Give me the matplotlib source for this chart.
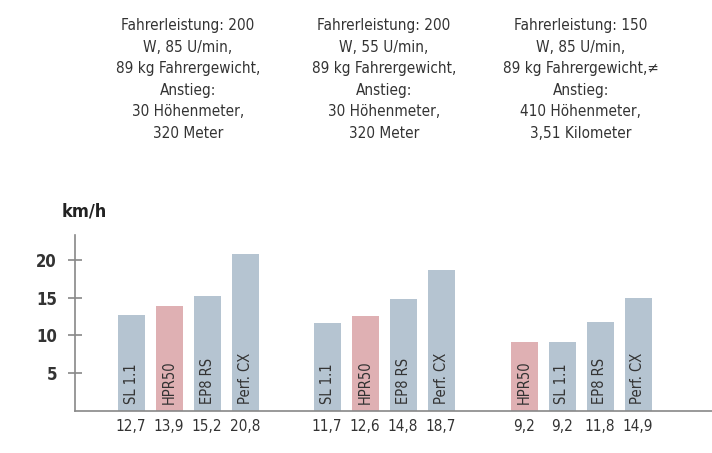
import matplotlib.pyplot as plt

plt.rcParams["font.family"] = "DejaVu Sans"
plt.rcParams["font.stretch"] = "condensed"

groups = [
    ["SL 1.1", "HPR50", "EP8 RS", "Perf. CX"],
    ["SL 1.1", "HPR50", "EP8 RS", "Perf. CX"],
    ["HPR50", "SL 1.1", "EP8 RS", "Perf. CX"],
]
values = [
    [12.7, 13.9, 15.2, 20.8],
    [11.7, 12.6, 14.8, 18.7],
    [9.2, 9.2, 11.8, 14.9],
]
value_labels = [
    ["12,7", "13,9", "15,2", "20,8"],
    ["11,7", "12,6", "14,8", "18,7"],
    ["9,2", "9,2", "11,8", "14,9"],
]
notes = [
    "Fahrerleistung: 200\nW, 85 U/min,\n89 kg Fahrergewicht,\nAnstieg:\n30 Höhenmeter,\n320 Meter",
    "Fahrerleistung: 200\nW, 55 U/min,\n89 kg Fahrergewicht,\nAnstieg:\n30 Höhenmeter,\n320 Meter",
    "Fahrerleistung: 150\nW, 85 U/min,\n89 kg Fahrergewicht,≠\nAnstieg:\n410 Höhenmeter,\n3,51 Kilometer",
]
yticks = [5, 10, 15, 20]

BLUE = "#b5c4d1"
PINK = "#dfb0b3"
TXT = "#333333"

fig = plt.figure(figsize=(7.12, 4.53), dpi=100)
ax = fig.add_axes([75 / 712, 42 / 453, 637 / 712, 176 / 453])

group_start = [131, 327, 524]
step = 38
for g, (names, vals, labs) in enumerate(zip(groups, values, value_labels)):
    for i, (n, v, l) in enumerate(zip(names, vals, labs)):
        x = group_start[g] + i * step
        ax.bar(x, v, width=27, color=PINK if n == "HPR50" else BLUE)
        ax.text(x, 0.9, n, rotation=90, ha="center", va="bottom",
                fontsize=10.5, color=TXT)
        ax.text(x, -1.0, l, ha="center", va="top", fontsize=11, color=TXT,
                clip_on=False)
    fig.text((group_start[g] + 1.5 * step) / 712, 1 - 18 / 453, notes[g],
             ha="center", va="top", fontsize=11, color=TXT, linespacing=1.55)

ax.set_xlim(75, 712)
ax.set_ylim(0, 23.3)
ax.set_yticks(yticks)
ax.set_yticklabels([str(t) for t in yticks], fontsize=12, fontweight="bold", color=TXT)
ax.tick_params(axis="y", direction="inout", length=10, width=1.2, color="#888888", pad=8)
ax.set_xticks([])
for s in ["top", "right"]:
    ax.spines[s].set_visible(False)
for s in ["left", "bottom"]:
    ax.spines[s].set_color("#888888")
    ax.spines[s].set_linewidth(1.2)
fig.text(62 / 712, 1 - 212 / 453, "km/h", ha="left", va="center",
         fontsize=13, fontweight="bold", color="#222222")

fig.savefig("out.png", dpi=100)
